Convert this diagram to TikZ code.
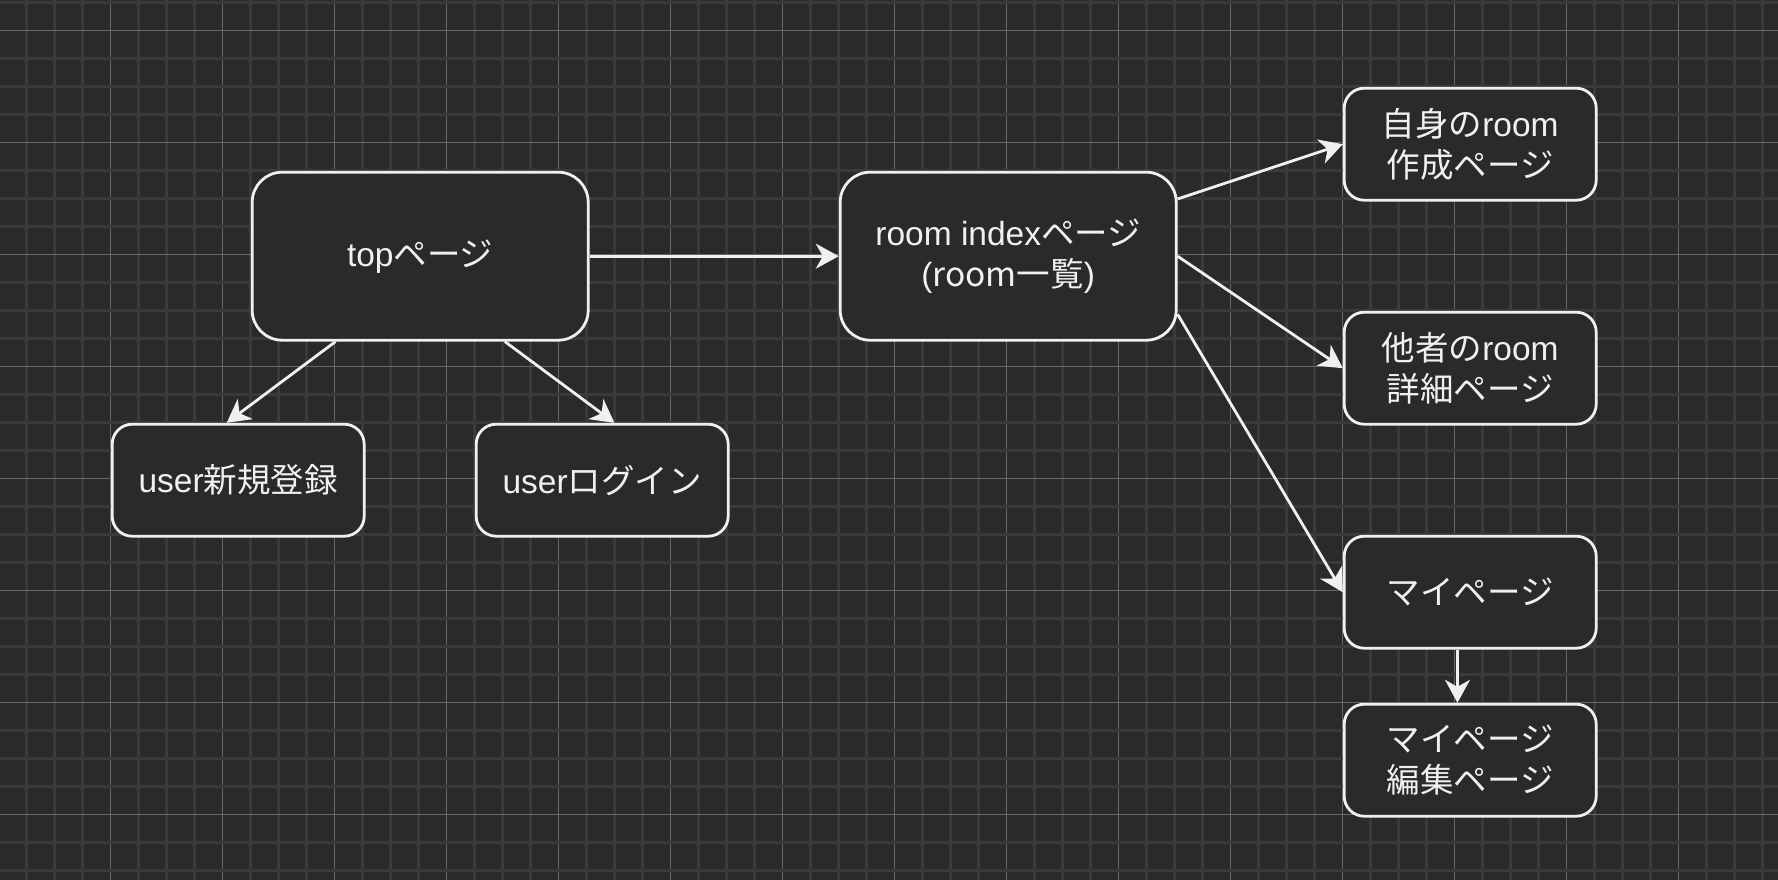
\documentclass[tikz,border=0pt]{standalone}
\usepackage{fontspec}
\setmainfont{Liberation Sans}
\newfontfamily\jp{Noto Sans CJK JP}
\usetikzlibrary{arrows.meta,calc}
\definecolor{bg}{HTML}{2A2A2A}
\definecolor{gminor}{HTML}{3A3A3A}
\definecolor{gmajor}{HTML}{676767}
\definecolor{fg}{HTML}{F0F0F0}
\tikzset{
  boxbase/.style={draw=fg, fill=bg, line width=2.8pt, text=fg, align=center,
    inner sep=0pt, font=\fontsize{33.5}{41.5}\selectfont},
  bigbox/.style={boxbase, rounded corners=30pt, minimum width=336pt, minimum height=168pt},
  smallbox/.style={boxbase, rounded corners=20pt, minimum width=252pt, minimum height=112pt},
  link/.style={draw=fg, line width=2.8pt, -{Stealth[length=23pt,width=25pt,inset=7pt]}},
}
\begin{document}
\begin{tikzpicture}[x=1pt,y=-1pt]
\useasboundingbox (0,0) rectangle (1778,880);
\fill[bg] (0,0) rectangle (1778,880);
% grid
\foreach \k in {0,...,62}{
  \pgfmathsetmacro\xx{26.7+28*\k}
  \pgfmathtruncatemacro\mm{mod(\k+1,4)}
  \ifnum\mm=0
    \draw[gmajor, line width=1.3pt] (\xx,0) -- (\xx,880);
  \else
    \draw[gminor, line width=2.5pt] (\xx,0) -- (\xx,880);
  \fi
}
\foreach \k in {0,...,31}{
  \pgfmathsetmacro\yy{2.7+28*\k}
  \pgfmathtruncatemacro\mm{mod(\k+3,4)}
  \ifnum\mm=0
    \draw[gmajor, line width=1.3pt] (0,\yy) -- (1778,\yy);
  \else
    \draw[gminor, line width=2.5pt] (0,\yy) -- (1778,\yy);
  \fi
}
% nodes
\node[bigbox] (top) at (420.2,256.2) {top{\jp ページ}};
\node[bigbox] (roomidx) at (1008.2,256.2) {room index{\jp ページ}\\({\jp room一覧})};
\node[smallbox] (usernew) at (238.2,480.2) {user{\jp 新規登録}};
\node[smallbox] (userlogin) at (602.2,480.2) {user{\jp ログイン}};
\node[smallbox] (jishin) at (1470.2,144.2) {{\jp 自身の}room\\{\jp 作成ページ}};
\node[smallbox] (tasha) at (1470.2,368.2) {{\jp 他者の}room\\{\jp 詳細ページ}};
\node[smallbox] (mypage) at (1470.2,592.2) {{\jp マイページ}};
\node[smallbox] (edit) at (1470.2,760.2) {{\jp マイページ}\\{\jp 編集ページ}};
% connectors
\draw[link] (top.east) -- (roomidx.west);
\draw[link] ($(top.south west)!0.25!(top.south east)$) -- ($(usernew.north west)!0.455!(usernew.north east)$);
\draw[link] ($(top.south west)!0.75!(top.south east)$) -- ($(userlogin.north west)!0.548!(userlogin.north east)$);
\draw[link] ($(roomidx.north east)!0.165!(roomidx.south east)$) -- (jishin.west);
\draw[link] (roomidx.east) -- (tasha.west);
\draw[link] ($(roomidx.north east)!0.84!(roomidx.south east)$) -- (mypage.west);
\draw[link] ($(mypage.south west)!0.45!(mypage.south east)$) -- ($(edit.north west)!0.45!(edit.north east)$);
\end{tikzpicture}
\end{document}
